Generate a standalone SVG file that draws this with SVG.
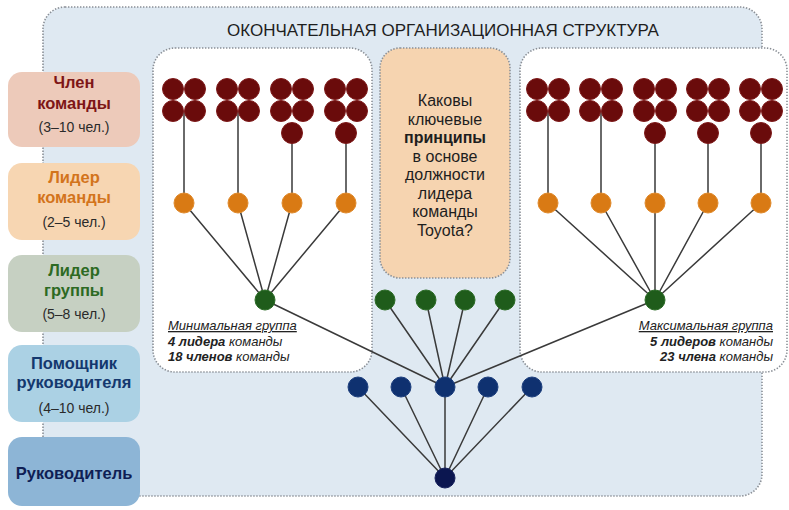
<svg xmlns="http://www.w3.org/2000/svg" width="789" height="510" viewBox="0 0 789 510">
<defs>
<style>
.dot{stroke:#8a8f96;stroke-width:1.6;stroke-dasharray:1.4 1.6;}
.ln{stroke:#3a3a3a;stroke-width:1.5;fill:none;}
.red{fill:#6a0b0b;stroke:#7e1a1a;stroke-width:1;}
.org{fill:#d97a14;stroke:#e08a2c;stroke-width:1;}
.grn{fill:#1f5c1b;stroke:#2b6b26;stroke-width:1;}
.nav{fill:#0f3170;stroke:#1d3f7e;stroke-width:1;}
.nav2{fill:#0b1650;stroke:#17215c;stroke-width:1;}
text{font-family:"Liberation Sans",Arial,sans-serif;}
.lb{font-size:16.5px;font-weight:bold;text-anchor:middle;}
.ls{font-size:14px;text-anchor:middle;fill:#2a2a2a;}
.q{font-size:16px;text-anchor:middle;fill:#1e1e1e;}
.note{font-size:13px;font-style:italic;fill:#222;}
</style>
</defs>
<rect width="789" height="510" fill="#ffffff"/>
<g id="frame">
<rect x="43" y="7" width="719" height="489" rx="22" fill="#dfe9f2" class="dot"/>
<text x="443" y="36" font-size="17" text-anchor="middle" fill="#1e1e1e">ОКОНЧАТЕЛЬНАЯ ОРГАНИЗАЦИОННАЯ СТРУКТУРА</text>
</g>
<g id="panel-min"><rect x="153" y="48" width="219" height="324" rx="22" fill="#ffffff" class="dot"/></g>
<g id="panel-max"><rect x="520" y="48" width="267" height="324" rx="22" fill="#ffffff" class="dot"/></g>
<g id="question">
<rect x="380" y="48" width="130" height="230" rx="20" fill="#f6d4b0" class="dot"/>
<text class="q" x="445" y="106">Каковы</text>
<text class="q" x="445" y="124.5">ключевые</text>
<text class="q" x="445" y="143" font-weight="bold">принципы</text>
<text class="q" x="445" y="161.5">в основе</text>
<text class="q" x="445" y="180">должности</text>
<text class="q" x="445" y="198.5">лидера</text>
<text class="q" x="445" y="217">команды</text>
<text class="q" x="445" y="235.5">Toyota?</text>
</g>
<g id="legend">
<g id="lg-member"><rect x="8" y="72" width="132" height="75" rx="14" fill="#edcaba"/>
<text class="lb" x="74" y="88" fill="#7e1616">Член</text>
<text class="lb" x="74" y="109" fill="#7e1616">команды</text>
<text class="ls" x="74" y="132">(3–10 чел.)</text></g>
<g id="lg-teamleader"><rect x="8" y="163" width="132" height="77" rx="14" fill="#f7d6b2"/>
<text class="lb" x="74" y="183" fill="#d3741c">Лидер</text>
<text class="lb" x="74" y="203" fill="#d3741c">команды</text>
<text class="ls" x="74" y="227">(2–5 чел.)</text></g>
<g id="lg-groupleader"><rect x="8" y="255" width="132" height="77" rx="14" fill="#c6d0c2"/>
<text class="lb" x="74" y="276" fill="#2d6a23">Лидер</text>
<text class="lb" x="74" y="296" fill="#2d6a23">группы</text>
<text class="ls" x="74" y="319">(5–8 чел.)</text></g>
<g id="lg-assistant"><rect x="8" y="345" width="132" height="77" rx="14" fill="#abd1e4"/>
<text class="lb" x="74" y="369" fill="#14386e">Помощник</text>
<text class="lb" x="74" y="388" fill="#14386e">руководителя</text>
<text class="ls" x="74" y="413">(4–10 чел.)</text></g>
<g id="lg-manager"><rect x="8" y="437" width="132" height="69" rx="14" fill="#8db5d6"/>
<text class="lb" x="74" y="479" fill="#0f1f55">Руководитель</text></g>
</g>
<g id="connectors">
<path class="ln" d="M184 111V203M238 111V203M292 133V203M346 133V203"/>
<path class="ln" d="M548 111V203M601 111V203M655 133V203M708 133V203M761 133V203"/>
<path class="ln" d="M184 203L265 300M238 203L265 300M292 203L265 300M346 203L265 300"/>
<path class="ln" d="M548 203L655 300M601 203L655 300M655 203L655 300M708 203L655 300M761 203L655 300"/>
<path class="ln" d="M265 300L445 387M655 300L445 387M385 300L445 387M426 300L445 387M465 300L445 387M505 300L445 387"/>
<path class="ln" d="M445 478L358 387M445 478L401 387M445 478L445 387M445 478L488 387M445 478L532 387"/>
</g>
<g id="min-members">
<circle class="red" cx="173" cy="89" r="10.5"/><circle class="red" cx="195" cy="89" r="10.5"/><circle class="red" cx="173" cy="111" r="10.5"/><circle class="red" cx="195" cy="111" r="10.5"/>
<circle class="red" cx="227" cy="89" r="10.5"/><circle class="red" cx="249" cy="89" r="10.5"/><circle class="red" cx="227" cy="111" r="10.5"/><circle class="red" cx="249" cy="111" r="10.5"/>
<circle class="red" cx="281" cy="89" r="10.5"/><circle class="red" cx="303" cy="89" r="10.5"/><circle class="red" cx="281" cy="111" r="10.5"/><circle class="red" cx="303" cy="111" r="10.5"/><circle class="red" cx="292" cy="133" r="10.5"/>
<circle class="red" cx="335" cy="89" r="10.5"/><circle class="red" cx="357" cy="89" r="10.5"/><circle class="red" cx="335" cy="111" r="10.5"/><circle class="red" cx="357" cy="111" r="10.5"/><circle class="red" cx="346" cy="133" r="10.5"/>
</g>
<g id="max-members">
<circle class="red" cx="537" cy="89" r="10.5"/><circle class="red" cx="559" cy="89" r="10.5"/><circle class="red" cx="537" cy="111" r="10.5"/><circle class="red" cx="559" cy="111" r="10.5"/>
<circle class="red" cx="590" cy="89" r="10.5"/><circle class="red" cx="612" cy="89" r="10.5"/><circle class="red" cx="590" cy="111" r="10.5"/><circle class="red" cx="612" cy="111" r="10.5"/>
<circle class="red" cx="644" cy="89" r="10.5"/><circle class="red" cx="666" cy="89" r="10.5"/><circle class="red" cx="644" cy="111" r="10.5"/><circle class="red" cx="666" cy="111" r="10.5"/><circle class="red" cx="655" cy="133" r="10.5"/>
<circle class="red" cx="697" cy="89" r="10.5"/><circle class="red" cx="719" cy="89" r="10.5"/><circle class="red" cx="697" cy="111" r="10.5"/><circle class="red" cx="719" cy="111" r="10.5"/><circle class="red" cx="708" cy="133" r="10.5"/>
<circle class="red" cx="750" cy="89" r="10.5"/><circle class="red" cx="772" cy="89" r="10.5"/><circle class="red" cx="750" cy="111" r="10.5"/><circle class="red" cx="772" cy="111" r="10.5"/><circle class="red" cx="761" cy="133" r="10.5"/>
</g>
<g id="team-leaders">
<circle class="org" cx="184" cy="203" r="10"/><circle class="org" cx="238" cy="203" r="10"/><circle class="org" cx="292" cy="203" r="10"/><circle class="org" cx="346" cy="203" r="10"/>
<circle class="org" cx="548" cy="203" r="10"/><circle class="org" cx="601" cy="203" r="10"/><circle class="org" cx="655" cy="203" r="10"/><circle class="org" cx="708" cy="203" r="10"/><circle class="org" cx="761" cy="203" r="10"/>
</g>
<g id="group-leaders">
<circle class="grn" cx="265" cy="300" r="10"/><circle class="grn" cx="655" cy="300" r="10"/>
<circle class="grn" cx="385" cy="300" r="10"/><circle class="grn" cx="426" cy="300" r="10"/><circle class="grn" cx="465" cy="300" r="10"/><circle class="grn" cx="505" cy="300" r="10"/>
</g>
<g id="assistants">
<circle class="nav" cx="358" cy="387" r="10"/><circle class="nav" cx="401" cy="387" r="10"/><circle class="nav" cx="445" cy="387" r="10"/><circle class="nav" cx="488" cy="387" r="10"/><circle class="nav" cx="532" cy="387" r="10"/>
</g>
<g id="manager"><circle class="nav2" cx="445" cy="478" r="10"/></g>
<g id="min-note">
<text class="note" x="168" y="330" text-decoration="underline">Минимальная группа</text>
<text class="note" x="168" y="345.5"><tspan font-weight="bold">4 лидера</tspan> команды</text>
<text class="note" x="168" y="361"><tspan font-weight="bold">18 членов</tspan> команды</text>
</g>
<g id="max-note">
<text class="note" x="773" y="330" text-anchor="end" text-decoration="underline">Максимальная группа</text>
<text class="note" x="773" y="345.5" text-anchor="end"><tspan font-weight="bold">5 лидеров</tspan> команды</text>
<text class="note" x="773" y="361" text-anchor="end"><tspan font-weight="bold">23 члена</tspan> команды</text>
</g>
</svg>
